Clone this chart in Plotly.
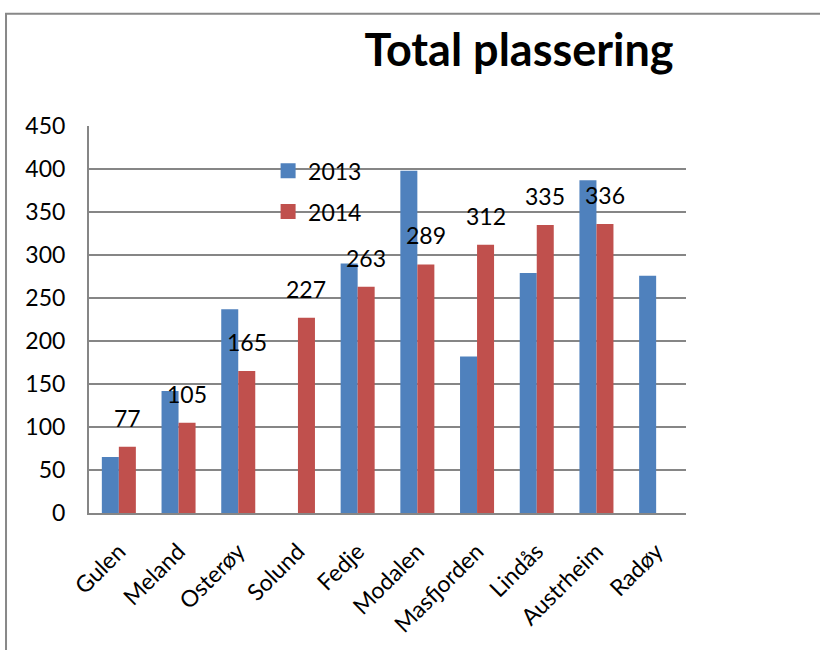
import plotly.graph_objects as go

categories = ["Gulen", "Meland", "Osterøy", "Solund", "Fedje", "Modalen",
              "Masfjorden", "Lindås", "Austrheim", "Radøy"]
values_2013 = [65, 142, 237, None, 290, 398, 182, 279, 387, 276]
values_2014 = [77, 105, 165, 227, 263, 289, 312, 335, 336, None]
series_names = ["2013", "2014"]
y_ticks = [0, 50, 100, 150, 200, 250, 300, 350, 400, 450]

FONT = "Lato"
BLUE = "#4F81BD"
RED = "#C0504D"
GRID = "#868686"

fig = go.Figure()
for name, vals, col in zip(series_names, [values_2013, values_2014], [BLUE, RED]):
    fig.add_trace(go.Bar(name=name, x=categories, y=vals,
                         marker=dict(color=col, line=dict(width=0)),
                         showlegend=False))
# legend entries with larger square swatches
for i, (name, col) in enumerate(zip(series_names, [BLUE, RED])):
    fig.add_trace(go.Scatter(name=name, x=[None], y=[None], mode="markers",
                             marker=dict(symbol="square", size=15, color=col),
                             legendgroup=f"g{i}", showlegend=True))

for c, v in zip(categories, values_2014):
    if v is None:
        continue
    fig.add_annotation(x=c, y=v, xref="x", yref="y", text=str(v),
                       showarrow=False, xshift=8.5, yshift=13,
                       yanchor="bottom", xanchor="center",
                       font=dict(family=FONT, size=23, color="black"))

fig.update_layout(
    width=820, height=650,
    margin=dict(l=89, r=134, t=126, b=137),
    paper_bgcolor="white", plot_bgcolor="white",
    barmode="group", bargap=0.43, bargroupgap=0,
    title=dict(text="<b>Total plassering</b>", x=519 / 820, xanchor="center",
               y=1 - 50 / 650, yanchor="middle",
               font=dict(family=FONT, size=45, color="black")),
    font=dict(family=FONT, size=23, color="black"),
    legend=dict(x=0.3, y=0.94, xanchor="left", yanchor="top",
                bgcolor="rgba(0,0,0,0)", traceorder="grouped",
                tracegroupgap=8, font=dict(family=FONT, size=23),
                itemwidth=30),
    showlegend=True,
    shapes=[dict(type="path", xref="paper", yref="paper",
                 path="M -0.139 -0.36 L -0.139 1.29 L 1.3 1.29",
                 line=dict(color="#888888", width=2))],
)
fig.update_yaxes(range=[0, 450], tickvals=y_ticks, showgrid=True,
                 gridcolor=GRID, gridwidth=2, showline=True, linecolor=GRID,
                 linewidth=2, ticks="", ticklabelstandoff=17, zeroline=False,
                 tickfont=dict(family=FONT, size=23))
fig.update_xaxes(showline=True, linecolor=GRID, linewidth=2, ticks="",
                 tickangle=-45, tickfont=dict(family=FONT, size=23),
                 ticklabelstandoff=14, showgrid=False)

fig.write_html("out.html", config={"displayModeBar": False},
               post_script="document.body.style.margin='0px';document.body.style.overflow='hidden';")
